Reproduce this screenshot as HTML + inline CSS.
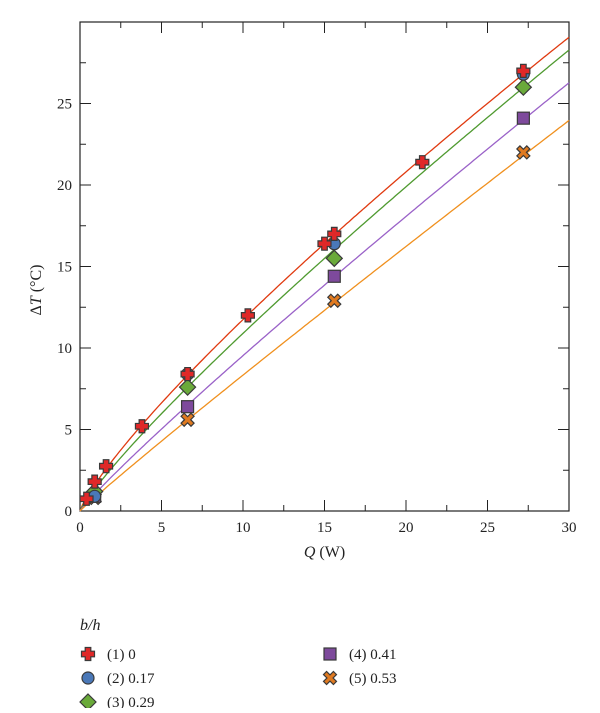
<!DOCTYPE html>
<html><head><meta charset="utf-8"><style>
body{margin:0;background:#fff;}
svg text{font-family:"Liberation Serif",serif;fill:#222;}
</style></head><body>
<svg id="chart" width="600" height="708" viewBox="0 0 600 708" xmlns="http://www.w3.org/2000/svg">
<g id="axes"></g><g id="fits"></g><g id="marks"></g><g id="legend"></g>
</svg>
<script>
const xTicks=[0,5,10,15,20,25,30];
const yTicks=[0,5,10,15,20,25];
const s1x=[0.4,0.9,1.6,3.8,6.6,10.3,15.0,15.6,21.0,27.2];
const s1y=[0.75,1.8,2.75,5.2,8.4,12.0,16.4,17.0,21.4,27.0];
const s2x=[0.9,6.6,15.6,27.2];
const s2y=[0.9,8.4,16.4,26.8];
const s3x=[0.9,6.6,15.6,27.2];
const s3y=[1.2,7.6,15.5,26.0];
const s4x=[0.9,6.6,15.6,27.2];
const s4y=[0.9,6.4,14.4,24.1];
const s5x=[0.9,6.6,15.6,27.2];
const s5y=[0.8,5.6,12.9,22.0];
const fitA=[1.757,1.477,1.138,0.912];
const fitB=[0.825,0.868,0.923,0.961];
const labels=["(1) 0","(2) 0.17","(3) 0.29","(4) 0.41","(5) 0.53"];

const NS="http://www.w3.org/2000/svg";
const L=80,R=569,T=22,B=511;
const xs=v=>L+(v/30)*(R-L);
const ys=v=>B-(v/30)*(B-T);
function mk(tag,attrs,parent,txt){const e=document.createElementNS(NS,tag);for(const k in attrs)e.setAttribute(k,attrs[k]);if(txt!==undefined)e.textContent=txt;parent.appendChild(e);return e;}
const axes=document.getElementById('axes');
const frame=mk('rect',{x:L,y:T,width:R-L,height:B-T,fill:'none',stroke:'#222','stroke-width':1.2},axes);


for(let v=0;v<=30;v+=2.5){
  const major=v%5===0, len=major?11:6;
  const x=xs(v), y=ys(v);
  mk('line',{x1:x,y1:B,x2:x,y2:B-len,stroke:'#222'},axes);
  mk('line',{x1:x,y1:T,x2:x,y2:T+len,stroke:'#222'},axes);
  mk('line',{x1:L,y1:y,x2:L+len,y2:y,stroke:'#222'},axes);
  mk('line',{x1:R,y1:y,x2:R-len,y2:y,stroke:'#222'},axes);
}
xTicks.forEach(v=>{const t=mk('text',{x:xs(v),y:B+21,'text-anchor':'middle','font-size':15},axes,String(v));

});
yTicks.forEach(v=>{const t=mk('text',{x:L-8,y:ys(v)+5,'text-anchor':'end','font-size':15},axes,String(v));

});
const xt=mk('text',{x:(L+R)/2,y:557,'text-anchor':'middle','font-size':16},axes);
xt.innerHTML='<tspan font-style="italic">Q</tspan> (W)';


const yt=mk('text',{x:0,y:0,'text-anchor':'middle','font-size':16,transform:'translate(41,290) rotate(-90)'},axes);
yt.innerHTML='Δ<tspan font-style="italic">T</tspan> (°C)';



const lineCols=['#e03a10','#4f9a30','#9a62c8','#f0901e'];
const fits=document.getElementById('fits');
fitA.forEach((a,i)=>{let d='';for(let k=0;k<=200;k++){const x=30*k/200;const y=a*Math.pow(x,fitB[i]);d+=(k?'L':'M')+xs(x).toFixed(1)+','+ys(y).toFixed(1);}
const p=mk('path',{d:d,fill:'none',stroke:lineCols[i],'stroke-width':1.3},fits);

});

const fills=['#e02828','#4a78b8','#6aaa3a','#7e4a9c','#e07a20'];
function marker(type,cx,cy,parent){
  const st={stroke:'#3a3a3a','stroke-width':1.2,fill:fills[type]};
  let e;
  if(type===0){const a=2.8,b=6.5;e=mk('path',Object.assign({d:`M${cx-a},${cy-b}h${2*a}v${b-a}h${b-a}v${2*a}h${a-b}v${b-a}h${-2*a}v${a-b}h${a-b}v${-2*a}h${b-a}z`},st),parent);}
  else if(type===1){e=mk('circle',Object.assign({cx:cx,cy:cy,r:6},st),parent);}
  else if(type===2){e=mk('path',Object.assign({d:`M${cx},${cy-8}L${cx+8},${cy}L${cx},${cy+8}L${cx-8},${cy}Z`},st),parent);}
  else if(type===3){e=mk('rect',Object.assign({x:cx-6,y:cy-6,width:12,height:12},st),parent);}
  else {const a=2.2,b=6.5;const pts=[[-b,-b+a*1.4],[-b+a*1.4,-b],[0,-a*1.4],[b-a*1.4,-b],[b,-b+a*1.4],[a*1.4,0],[b,b-a*1.4],[b-a*1.4,b],[0,a*1.4],[-b+a*1.4,b],[-b,b-a*1.4],[-a*1.4,0]];
    e=mk('polygon',Object.assign({points:pts.map(p=>(cx+p[0])+','+(cy+p[1])).join(' ')},st),parent);}
  return e;
}
const marks=document.getElementById('marks');
const series=[[s1x,s1y],[s2x,s2y],[s3x,s3y],[s4x,s4y],[s5x,s5y]];
for(let i=4;i>=0;i--){series[i][0].forEach((x,j)=>{const e=marker(i,xs(x),ys(series[i][1][j]),marks);

});}

const lg=document.getElementById('legend');
const lt=mk('text',{x:80,y:630,'font-size':16,'font-style':'italic'},lg,'b/h');


const pos=[[88,654],[88,678],[88,702],[330,654],[330,678]];
labels.forEach((s,i)=>{const g=mk('g',{},lg);


marker(i,pos[i][0],pos[i][1],g);
mk('text',{x:pos[i][0]+19,y:pos[i][1]+5,'font-size':15},g,s);});
</script>
</body></html>
